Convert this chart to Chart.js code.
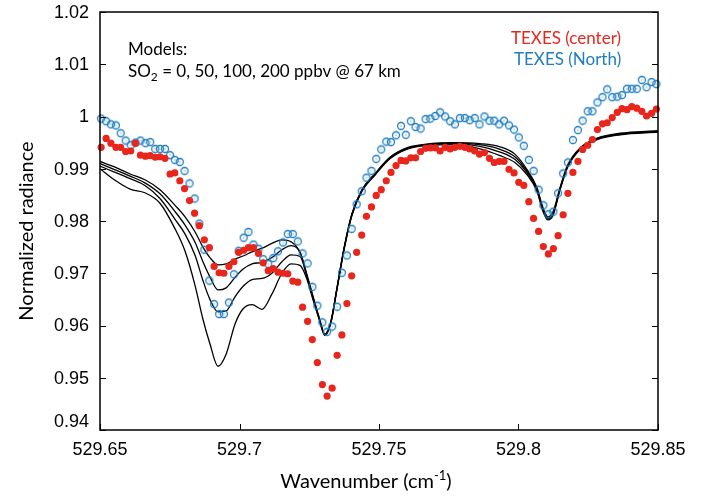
<!DOCTYPE html>
<html>
<head>
<meta charset="utf-8">
<script src="https://cdn.jsdelivr.net/npm/chart.js@4.4.0/dist/chart.umd.min.js"></script>
<style>html,body{margin:0;padding:0;background:#fff}</style>
</head>
<body>
<canvas id="grafico" width="713" height="497"></canvas>
<script>
// eixos
const xTicks = [529.65, 529.7, 529.75, 529.8, 529.85];
const yTicks = [0.94, 0.95, 0.96, 0.97, 0.98, 0.99, 1, 1.01, 1.02];

// observacoes TEXES (mesma grade de numero de onda)
const wavenumber = [
  529.6504, 529.6522, 529.6539, 529.6557, 529.6574, 529.6592, 529.6610, 529.6627, 529.6645, 529.6663,
  529.6680, 529.6698, 529.6715, 529.6733, 529.6751, 529.6768, 529.6786, 529.6803, 529.6821, 529.6839,
  529.6856, 529.6874, 529.6892, 529.6909, 529.6927, 529.6944, 529.6962, 529.6980, 529.6997, 529.7015,
  529.7032, 529.7050, 529.7068, 529.7085, 529.7103, 529.7121, 529.7138, 529.7156, 529.7173, 529.7191,
  529.7209, 529.7226, 529.7244, 529.7261, 529.7279, 529.7297, 529.7314, 529.7332, 529.7350, 529.7367,
  529.7385, 529.7402, 529.7420, 529.7438, 529.7455, 529.7473, 529.7490, 529.7508, 529.7526, 529.7543,
  529.7561, 529.7579, 529.7596, 529.7614, 529.7631, 529.7649, 529.7667, 529.7684, 529.7702, 529.7719,
  529.7737, 529.7755, 529.7772, 529.7790, 529.7808, 529.7825, 529.7843, 529.7860, 529.7878, 529.7896,
  529.7913, 529.7931, 529.7948, 529.7966, 529.7984, 529.8001, 529.8019, 529.8037, 529.8054, 529.8072,
  529.8089, 529.8107, 529.8125, 529.8142, 529.8160, 529.8177, 529.8195, 529.8213, 529.8230, 529.8248,
  529.8265, 529.8283, 529.8301, 529.8318, 529.8336, 529.8354, 529.8371, 529.8389, 529.8406, 529.8424,
  529.8442, 529.8459, 529.8477, 529.8494
];
const texesCenter = [
  0.9941, 0.9958, 0.9949, 0.9941, 0.9941, 0.9933, 0.9934, 0.9949, 0.9926, 0.9924,
  0.9925, 0.9922, 0.9923, 0.9920, 0.9890, 0.9892, 0.9877, 0.9862, 0.9839, 0.9815,
  0.9791, 0.9764, 0.9749, 0.9713, 0.9701, 0.9700, 0.9713, 0.9722, 0.9740, 0.9744,
  0.9749, 0.9749, 0.9738, 0.9720, 0.9705, 0.9709, 0.9702, 0.9700, 0.9699, 0.9685,
  0.9683, 0.9635, 0.9608, 0.9573, 0.9529, 0.9487, 0.9465, 0.9480, 0.9543, 0.9582,
  0.9642, 0.9695, 0.9740, 0.9773, 0.9809, 0.9827, 0.9849, 0.9860, 0.9877, 0.9893,
  0.9906, 0.9916, 0.9915, 0.9921, 0.9921, 0.9933, 0.9939, 0.9940, 0.9940, 0.9934,
  0.9941, 0.9938, 0.9941, 0.9943, 0.9941, 0.9938, 0.9934, 0.9928, 0.9931, 0.9920,
  0.9912, 0.9914, 0.9914, 0.9899, 0.9892, 0.9874, 0.9868, 0.9837, 0.9805, 0.9780,
  0.9751, 0.9737, 0.9747, 0.9772, 0.9812, 0.9853, 0.9893, 0.9914, 0.9937, 0.9945,
  0.9956, 0.9975, 0.9986, 0.9988, 0.9998, 1.0008, 1.0015, 1.0013, 1.0019, 1.0016,
  1.0010, 1.0001, 1.0006, 1.0014
];
const texesNorth = [
  0.9996, 0.9991, 0.9985, 0.9983, 0.9968, 0.9954, 0.9945, 0.9950, 0.9954, 0.9949,
  0.9951, 0.9938, 0.9938, 0.9938, 0.9926, 0.9917, 0.9913, 0.9896, 0.9872, 0.9843,
  0.9795, 0.9745, 0.9686, 0.9641, 0.9622, 0.9622, 0.9644, 0.9698, 0.9743, 0.9768,
  0.9779, 0.9755, 0.9747, 0.9727, 0.9718, 0.9729, 0.9742, 0.9759, 0.9775, 0.9775,
  0.9761, 0.9738, 0.9719, 0.9674, 0.9638, 0.9606, 0.9588, 0.9598, 0.9636, 0.9701,
  0.9734, 0.9785, 0.9832, 0.9857, 0.9883, 0.9896, 0.9919, 0.9937, 0.9952, 0.9951,
  0.9964, 0.9982, 0.9965, 0.9991, 0.9980, 0.9977, 0.9995, 0.9996, 1.0001, 1.0008,
  1.0000, 0.9991, 0.9985, 0.9997, 0.9997, 0.9993, 0.9997, 0.9985, 1.0000, 0.9992,
  0.9992, 0.9985, 0.9992, 0.9983, 0.9975, 0.9960, 0.9944, 0.9917, 0.9896, 0.9860,
  0.9830, 0.9813, 0.9818, 0.9853, 0.9891, 0.9912, 0.9955, 0.9974, 0.9992, 1.0010,
  1.0010, 1.0027, 1.0037, 1.0052, 1.0037, 1.0038, 1.0041, 1.0053, 1.0053, 1.0053,
  1.0070, 1.0056, 1.0066, 1.0062
];

// modelos SO2 = 0, 50, 100, 200 ppbv @ 67 km
const modelWavenumber = [
  529.6500, 529.6554, 529.6608, 529.6661, 529.6715, 529.6769, 529.6805, 529.6841, 529.6869, 529.6894,
  529.6923, 529.6952, 529.6984, 529.7013, 529.7045, 529.7081, 529.7116, 529.7152, 529.7185, 529.7217,
  529.7242, 529.7263, 529.7285, 529.7306, 529.7328, 529.7349, 529.7375, 529.7403, 529.7439, 529.7486,
  529.7539, 529.7604, 529.7683, 529.7772, 529.7862, 529.7934, 529.7987, 529.8030, 529.8066, 529.8088,
  529.8106, 529.8124, 529.8149, 529.8176, 529.8219, 529.8284, 529.8364, 529.8500
];
const so2_0 = [
  0.9914, 0.9903, 0.9890, 0.9879, 0.9860, 0.9830, 0.9808, 0.9779, 0.9750, 0.9730,
  0.9716, 0.9718, 0.9727, 0.9733, 0.9741, 0.9748, 0.9757, 0.9764, 0.9760, 0.9740,
  0.9697, 0.9657, 0.9616, 0.9584, 0.9609, 0.9671, 0.9749, 0.9814, 0.9860, 0.9891,
  0.9922, 0.9941, 0.9948, 0.9950, 0.9948, 0.9942, 0.9928, 0.9899, 0.9864, 0.9825,
  0.9808, 0.9818, 0.9864, 0.9907, 0.9939, 0.9959, 0.9968, 0.9973
];
const so2_50 = [
  0.9910, 0.9898, 0.9886, 0.9873, 0.9852, 0.9818, 0.9792, 0.9759, 0.9722, 0.9693,
  0.9668, 0.9672, 0.9692, 0.9708, 0.9718, 0.9721, 0.9730, 0.9745, 0.9753, 0.9740,
  0.9695, 0.9655, 0.9615, 0.9583, 0.9608, 0.9670, 0.9748, 0.9813, 0.9859, 0.9890,
  0.9921, 0.9940, 0.9947, 0.9949, 0.9946, 0.9937, 0.9923, 0.9896, 0.9862, 0.9822,
  0.9806, 0.9815, 0.9862, 0.9905, 0.9938, 0.9958, 0.9967, 0.9972
];
const so2_100 = [
  0.9905, 0.9893, 0.9881, 0.9868, 0.9843, 0.9803, 0.9775, 0.9734, 0.9686, 0.9650,
  0.9626, 0.9628, 0.9655, 0.9675, 0.9688, 0.9690, 0.9700, 0.9722, 0.9735, 0.9732,
  0.9692, 0.9653, 0.9614, 0.9582, 0.9607, 0.9669, 0.9747, 0.9812, 0.9858, 0.9889,
  0.9920, 0.9939, 0.9946, 0.9948, 0.9943, 0.9932, 0.9918, 0.9893, 0.9860, 0.9820,
  0.9804, 0.9813, 0.9861, 0.9904, 0.9937, 0.9957, 0.9966, 0.9971
];
const so2_200 = [
  0.9900, 0.9878, 0.9861, 0.9854, 0.9834, 0.9785, 0.9742, 0.9676, 0.9612, 0.9565,
  0.9522, 0.9545, 0.9603, 0.9632, 0.9640, 0.9631, 0.9660, 0.9700, 0.9718, 0.9715,
  0.9688, 0.9650, 0.9613, 0.9581, 0.9606, 0.9668, 0.9746, 0.9811, 0.9857, 0.9888,
  0.9919, 0.9938, 0.9945, 0.9946, 0.9938, 0.9925, 0.9912, 0.9889, 0.9857, 0.9818,
  0.9802, 0.9811, 0.9860, 0.9903, 0.9936, 0.9956, 0.9965, 0.9970
];

const VERMELHO = '#e8261c';
const AZUL = '#1f7dc0';

function pares(xs, ys) {
  return xs.map((x, i) => ({ x: x, y: ys[i] }));
}

// circulo aberto com ponto no meio
function anel(cor) {
  const c = document.createElement('canvas');
  c.width = 10; c.height = 10;
  const g = c.getContext('2d');
  g.strokeStyle = cor;
  g.lineWidth = 1.3;
  g.beginPath();
  g.arc(5, 5, 3.5, 0, Math.PI * 2);
  g.stroke();
  g.fillStyle = cor;
  g.fillRect(4.5, 4.5, 1, 1);
  return c;
}

function modelo(ys) {
  return {
    data: pares(modelWavenumber, ys),
    showLine: true,
    borderColor: '#000',
    borderWidth: 1.3,
    pointRadius: 0,
    cubicInterpolationMode: 'monotone',
    order: 3
  };
}

const moldura = {
  id: 'moldura',
  afterDraw(chart) {
    const ctx = chart.ctx;
    const a = chart.chartArea;
    const xs = chart.scales.x, ys = chart.scales.y;
    ctx.save();
    ctx.strokeStyle = '#000';
    ctx.lineWidth = 1.5;
    ctx.strokeRect(a.left, a.top, a.right - a.left, a.bottom - a.top);
    ctx.beginPath();
    yTicks.forEach(v => {
      const py = Math.round(ys.getPixelForValue(v)) + 0.5;
      ctx.moveTo(a.left, py); ctx.lineTo(a.left + 6, py);
      ctx.moveTo(a.right, py); ctx.lineTo(a.right - 6, py);
    });
    xTicks.forEach(v => {
      const px = Math.round(xs.getPixelForValue(v)) + 0.5;
      ctx.moveTo(px, a.bottom); ctx.lineTo(px, a.bottom - 6);
    });
    ctx.lineWidth = 1;
    ctx.stroke();

    ctx.fillStyle = '#000';
    ctx.font = '18px "Liberation Sans", Arial, sans-serif';
    ctx.textAlign = 'right';
    ctx.textBaseline = 'middle';
    yTicks.forEach(v => {
      let py = ys.getPixelForValue(v);
      if (v === 0.94) py -= 9;
      ctx.fillText(String(v), a.left - 11, py + 1);
    });
    ctx.textAlign = 'center';
    ctx.textBaseline = 'top';
    xTicks.forEach(v => {
      ctx.fillText(String(v), xs.getPixelForValue(v), a.bottom + 11);
    });

    // titulos dos eixos
    ctx.font = '20px Lato, sans-serif';
    ctx.textBaseline = 'middle';
    ctx.save();
    ctx.translate(27, 231);
    ctx.rotate(-Math.PI / 2);
    ctx.textAlign = 'center';
    ctx.fillText('Normalized radiance', 0, 0);
    ctx.restore();

    const t1 = 'Wavenumber (cm', t2 = '-1', t3 = ')';
    ctx.font = '20px Lato, sans-serif';
    const w1 = ctx.measureText(t1).width, w3 = ctx.measureText(t3).width;
    ctx.font = '13px Lato, sans-serif';
    const w2 = ctx.measureText(t2).width;
    let x0 = 366 - (w1 + w2 + w3) / 2;
    ctx.textAlign = 'left';
    ctx.font = '20px Lato, sans-serif';
    ctx.fillText(t1, x0, 482);
    ctx.font = '13px Lato, sans-serif';
    ctx.fillText(t2, x0 + w1, 476);
    ctx.font = '20px Lato, sans-serif';
    ctx.fillText(t3, x0 + w1 + w2, 482);

    // anotacao dos modelos
    ctx.font = '17px Lato, sans-serif';
    ctx.fillText('Models:', 128, 50);
    ctx.fillText('SO', 128, 72);
    const wSO = ctx.measureText('SO').width;
    ctx.font = '12px Lato, sans-serif';
    ctx.fillText('2', 128 + wSO, 77);
    const w2b = ctx.measureText('2').width;
    ctx.font = '17px Lato, sans-serif';
    ctx.fillText(' = 0, 50, 100, 200 ppbv @ 67 km', 128 + wSO + w2b, 72);

    // legenda
    ctx.font = '17px Lato, sans-serif';
    ctx.fillStyle = VERMELHO;
    ctx.fillText('TEXES (center)', 511, 39);
    ctx.fillStyle = AZUL;
    ctx.fillText('TEXES (North)', 514, 60);
    ctx.restore();
  }
};

document.addEventListener('DOMContentLoaded', () => {
  const ctx = document.getElementById('grafico').getContext('2d');
  new Chart(ctx, {
    type: 'scatter',
    data: {
      datasets: [
        {
          label: 'TEXES (center)',
          data: pares(wavenumber, texesCenter),
          pointStyle: 'circle',
          pointRadius: 3.6,
          backgroundColor: VERMELHO,
          borderColor: VERMELHO,
          borderWidth: 0,
          clip: false,
          order: 1
        },
        {
          label: 'TEXES (North)',
          data: pares(wavenumber, texesNorth),
          pointStyle: anel(AZUL),
          pointRadius: 4,
          clip: false,
          order: 2
        },
        modelo(so2_0),
        modelo(so2_50),
        modelo(so2_100),
        modelo(so2_200)
      ]
    },
    options: {
      responsive: false,
      animation: false,
      layout: { padding: { left: 100, right: 55, top: 12, bottom: 67 } },
      scales: {
        x: { type: 'linear', min: 529.65, max: 529.85, display: false },
        y: { min: 0.94, max: 1.02, display: false }
      },
      plugins: { legend: { display: false }, tooltip: { enabled: false } }
    },
    plugins: [moldura]
  });
});
</script>
</body>
</html>
